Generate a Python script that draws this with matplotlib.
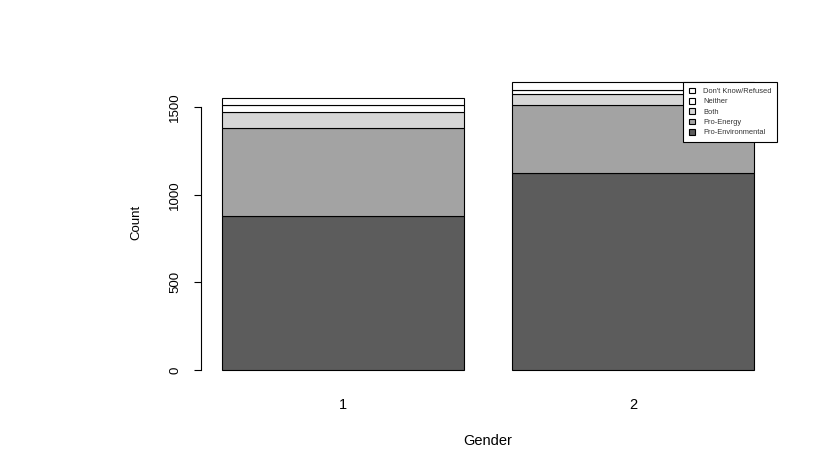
import matplotlib
matplotlib.use("Agg")
import matplotlib.pyplot as plt
import numpy as np

plt.rcParams['font.family'] = ['Liberation Sans', 'DejaVu Sans']

genders = ["1", "2"]
categories = ["Pro-Environmental", "Pro-Energy", "Both", "Neither", "Don't Know/Refused"]
pro_env = [878, 1121]
pro_energy = [503, 390]
both = [88, 62]
neither = [42, 23]
dont_know = [38, 44]
series = [pro_env, pro_energy, both, neither, dont_know]
colors = ["#5c5c5c", "#a3a3a3", "#d6d6d6", "#ffffff", "#ffffff"]

fig = plt.figure(figsize=(8.25, 4.55), dpi=100)
ax = fig.add_axes([200.7/825, 1-381.5/455, 575/825, 310.5/455])

x = np.array([0.7, 1.9])
bottom = np.zeros(2)
handles = []
for vals, col, lab in zip(series, colors, categories):
    b = ax.bar(x, vals, width=1.0, bottom=bottom, color=col, edgecolor="black",
               linewidth=0.8, label=lab)
    handles.append(b)
    bottom += np.array(vals)

ax.set_xlim(0.112, 2.488)
ax.set_ylim(-65.6, 1705.6)
for s in ["top", "right", "bottom"]:
    ax.spines[s].set_visible(False)
ax.spines["left"].set_bounds(0, 1500)
ax.spines["left"].set_linewidth(0.8)
ax.set_yticks([0, 500, 1000, 1500])
ax.set_yticklabels(["0", "500", "1000", "1500"], rotation=90, va="center", fontsize=9.5)
ax.tick_params(axis="y", length=5, width=0.8, pad=9)
ax.set_xticks(x)
ax.set_xticklabels(genders, fontsize=10.5)
ax.tick_params(axis="x", length=0, pad=12)

fig.text(488/825, 1-441/455, "Gender", ha="center", va="center", fontsize=10.5)
fig.text(136/825, 1-222/455, "Count", ha="center", va="center", rotation=90, fontsize=9.5)

leg = ax.legend(handles[::-1], categories[::-1], loc="upper right",
                bbox_to_anchor=(777/825, 1-82/455), bbox_transform=fig.transFigure,
                fontsize=5.4, frameon=True, fancybox=False, framealpha=1,
                borderaxespad=0,
                handlelength=0.8, handleheight=0.8, handletextpad=1.1,
                labelspacing=0.38, borderpad=0.75)
leg.get_frame().set_edgecolor("black")
leg.get_frame().set_linewidth(0.8)
for t in leg.get_texts():
    t.set_color("#333333")

fig.savefig("out.png", dpi=100)
